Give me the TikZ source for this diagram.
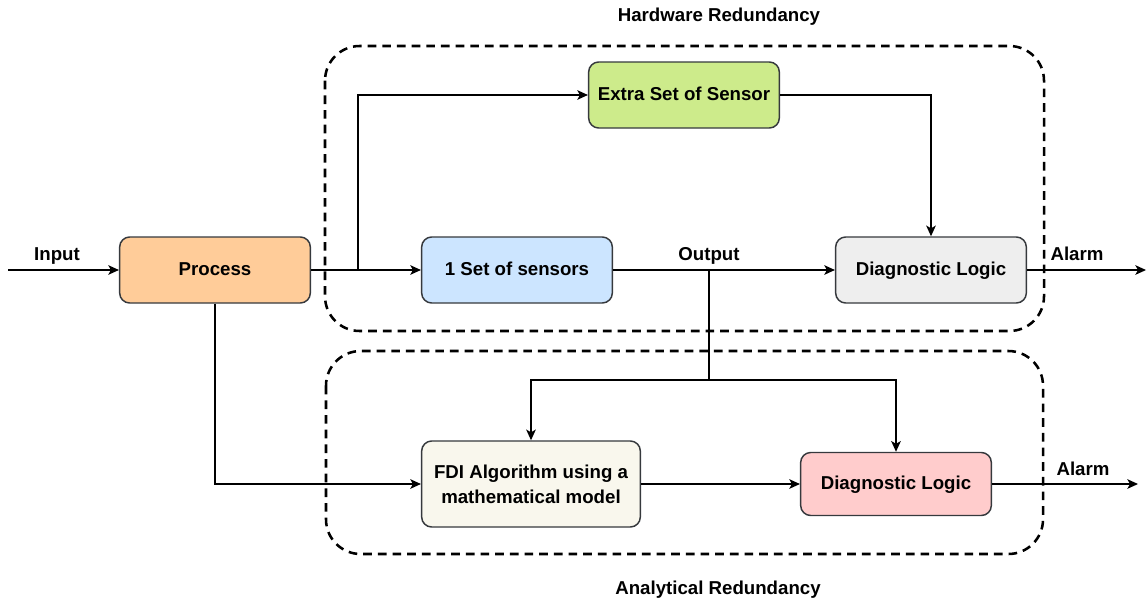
\documentclass[tikz,border=0pt]{standalone}
\usepackage{fontspec}
\setmainfont{Liberation Sans}
\usetikzlibrary{arrows.meta}
\definecolor{edgegray}{HTML}{36393D}
\definecolor{procfill}{HTML}{FFCC99}
\definecolor{extrafill}{HTML}{CDEB8B}
\definecolor{sensfill}{HTML}{CCE5FF}
\definecolor{diagfill}{HTML}{EEEEEE}
\definecolor{fdifill}{HTML}{F9F7ED}
\definecolor{pinkfill}{HTML}{FFCCCC}
\tikzset{
  blk/.style={draw=edgegray, line width=1.1pt, rounded corners=7.5pt,
    minimum width=143pt, minimum height=49.5pt, inner sep=0pt, align=center,
    text height=10pt, text depth=2pt,
    font=\fontsize{14}{18.5}\selectfont\bfseries},
  arr/.style={line width=1pt, -{Stealth[length=8pt,width=7.2pt,inset=2pt]}},
  wire/.style={line width=1pt},
  grp/.style={line width=1.9pt, dash pattern=on 6.5pt off 4.5pt, rounded corners=26pt},
  lbl/.style={font=\fontsize{14}{16}\selectfont\bfseries, inner sep=0pt,
    text height=10pt, text depth=0pt}
}
\begin{document}
\begin{tikzpicture}[x=0.75pt, y=-0.75pt]
\useasboundingbox (0,0) rectangle (1148,600);

% redundancy groups
\draw[grp] (325,46) rectangle (1044,331);
\draw[grp] (326,351) rectangle (1043,554);
\node[lbl] (hwtitle) at (719,15) {Hardware Redundancy};
\node[lbl] (antitle) at (718,588) {Analytical Redundancy};

% blocks
\node[blk, fill=procfill] (proc) at (215,270) {Process};
\node[blk, fill=sensfill] (sens) at (517,270) {1 Set of sensors};
\node[blk, fill=extrafill] (extra) at (684,95) {Extra Set of Sensor};
\node[blk, fill=diagfill] (diag1) at (931,270) {Diagnostic Logic};
\node[blk, fill=fdifill, minimum width=164pt, minimum height=64.5pt,
  text height=, text depth=] (fdi) at (531,484) {FDI Algorithm using a\\mathematical model};
\node[blk, fill=pinkfill, minimum height=47.25pt] (diag2) at (896,484) {Diagnostic Logic};

% free ends and junctions
\coordinate (in) at (8,270);
\coordinate (j1) at (358,270);
\coordinate (out) at (709,270);
\coordinate (split) at (709,380);
\coordinate (alarm1) at (1146,270);
\coordinate (alarm2) at (1138,484);

% signal flow
\draw[arr] (in) -- (proc.west);
\draw[arr] (proc.east) -- (sens.west);
\draw[arr] (j1) |- (extra.west);
\draw[arr] (extra.east) -| (diag1.north);
\draw[arr] (sens.east) -- (diag1.west);
\draw[wire] (out) -- (split);
\draw[arr] (split) -| (fdi.north);
\draw[arr] (split) -| (diag2.north);
\draw[arr] (proc.south) |- (fdi.west);
\draw[arr] (fdi.east) -- (diag2.west);
\draw[arr] (diag1.east) -- (alarm1);
\draw[arr] (diag2.east) -- (alarm2);

% signal labels
\node[lbl] (linput) at (57,254) {Input};
\node[lbl] (loutput) at (709,254) {Output};
\node[lbl] (lalarm1) at (1077,254) {Alarm};
\node[lbl] (lalarm2) at (1083,469) {Alarm};
\end{tikzpicture}
\end{document}
